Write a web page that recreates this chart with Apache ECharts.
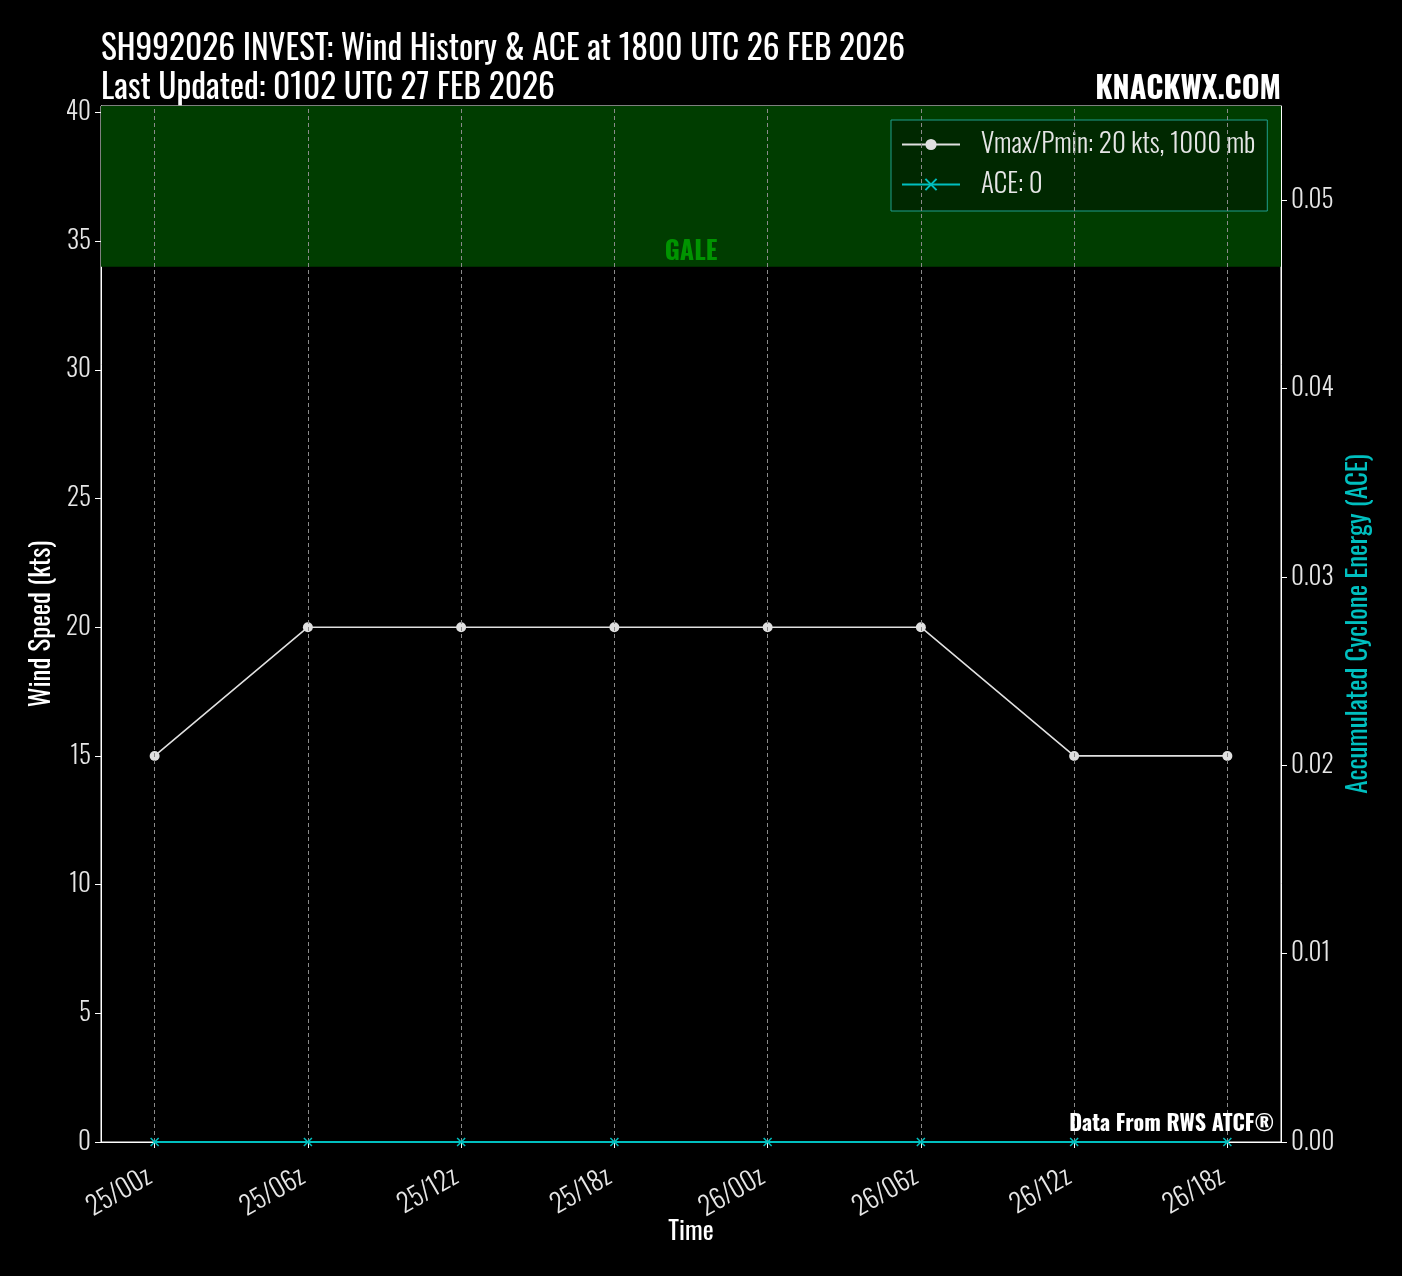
<!DOCTYPE html>
<html><head><meta charset="utf-8">
<script src="https://cdn.jsdelivr.net/npm/echarts@6/dist/echarts.min.js"></script>
<style>html,body{margin:0;padding:0;background:#000;}#c{width:1402px;height:1276px;}</style>
</head><body><div id="c"></div>
<script>
const times = ['25/00z','25/06z','25/12z','25/18z','26/00z','26/06z','26/12z','26/18z'];
const windKts = [15,20,20,20,20,20,15,15];
const aceVals = [0,0,0,0,0,0,0,0];
const galeKts = 34;
const windTicks = [0,5,10,15,20,25,30,35,40];
const aceTicks = [0,0.01,0.02,0.03,0.04,0.05];
const titleLine1 = 'SH992026 INVEST: Wind History & ACE at 1800 UTC 26 FEB 2026';
const titleLine2 = 'Last Updated: 0102 UTC 27 FEB 2026';
const windName = 'Vmax/Pmin: 20 kts, 1000 mb';
const aceName = 'ACE: 0';

const FONT = "Oswald, 'Liberation Sans Narrow', 'DejaVu Sans Condensed', 'Roboto Condensed', sans-serif";
const idx = times.map((t,i)=>i);
const chart = echarts.init(document.getElementById('c'), null, {renderer:'canvas'});
const option = {
  backgroundColor:'#000',
  animation:false,
  textStyle:{fontFamily:FONT},
  title:[
    {text:titleLine1+'\n'+titleLine2, left:96, top:25, textStyle:{color:'#fff', fontSize:33.4, fontWeight:'normal', fontFamily:FONT, lineHeight:39}},
    {text:'KNACKWX.COM', right:116, top:69, textStyle:{color:'#fff', fontSize:30.5, fontWeight:'bold', fontFamily:FONT}},
    {text:'Data From RWS ATCF®', right:123, top:1108, textStyle:{color:'#fff', fontSize:22, fontWeight:'bold', fontFamily:FONT}}
  ],
  grid:{left:101, right:121, top:106, bottom:134, show:true, borderColor:'#fff', borderWidth:1, backgroundColor:'#000'},
  legend:{
    orient:'vertical', left:891, top:120,
    backgroundColor:'rgba(0,36,0,0.85)', borderColor:'#1e9e8c', borderWidth:1,
    padding:[11,12,13,10], itemGap:13, itemWidth:58, itemHeight:14,
    textStyle:{color:'#e6e6e6', fontSize:27, fontWeight:300, fontFamily:FONT, padding:[0,0,0,16]},
    data:[{name:windName},{name:aceName}]
  },
  xAxis:{
    type:'value', min:-0.35, max:7.35,
    name:'Time', nameLocation:'middle', nameGap:77, nameMoveOverlap:false,
    nameTextStyle:{color:'#fff', fontSize:26, fontFamily:FONT},
    axisLine:{show:true, onZero:false, lineStyle:{color:'#fff', width:1}},
    axisTick:{show:true, customValues:idx, length:6, lineStyle:{color:'#fff'}},
    axisLabel:{show:true, customValues:idx, rotate:30, margin:30, padding:[0,6,0,0], color:'#e6e6e6', fontSize:26, fontWeight:300, fontFamily:FONT,
      formatter:v=>times[Math.round(v)]},
    splitLine:{show:false}
  },
  yAxis:[
    {type:'value', min:0, max:40.25, interval:5, position:'left',
     name:'Wind Speed (kts)', nameLocation:'middle', nameGap:45, nameRotate:90,
     nameTextStyle:{color:'#fff', fontSize:27, fontFamily:FONT},
     axisLine:{show:true, onZero:false, lineStyle:{color:'#fff'}},
     axisTick:{show:true, customValues:windTicks, length:6, lineStyle:{color:'#fff'}},
     axisLabel:{customValues:windTicks, color:'#e6e6e6', fontSize:25, fontWeight:300, fontFamily:FONT, margin:10},
     splitLine:{show:false}},
    {type:'value', min:0, max:0.055, interval:0.01, position:'right',
     name:'Accumulated Cyclone Energy (ACE)', nameLocation:'middle', nameGap:60, nameRotate:90,
     nameTextStyle:{color:'#00bfbf', fontSize:27, fontFamily:FONT},
     axisLine:{show:true, onZero:false, lineStyle:{color:'#fff'}},
     axisTick:{show:true, customValues:aceTicks, length:6, lineStyle:{color:'#fff'}},
     axisLabel:{customValues:aceTicks, color:'#e6e6e6', fontSize:25, fontWeight:300, fontFamily:FONT, margin:10,
       formatter:v=>v.toFixed(2)},
     splitLine:{show:false}}
  ],
  series:[
    {name:windName, type:'line', yAxisIndex:0, z:4,
     data:idx.map(i=>[i, windKts[i]]),
     symbol:'circle', symbolSize:10, showAllSymbol:true,
     lineStyle:{color:'#e0e0e0', width:1.6}, itemStyle:{color:'#e0e0e0'},
     markArea:{silent:true, itemStyle:{color:'#003d00'},
       label:{show:true, position:'insideBottom', color:'#009400', fontSize:26, fontWeight:'bold', fontFamily:FONT, distance:2},
       data:[[{yAxis:galeKts, name:'GALE'},{yAxis:40.25}]]},
     markLine:{silent:true, symbol:'none', label:{show:false},
       lineStyle:{color:'#8a8a8a', type:[4,3], width:1},
       data:idx.map(i=>({xAxis:i}))}
    },
    {name:aceName, type:'line', yAxisIndex:1, z:5,
     data:idx.map(i=>[i, aceVals[i]]),
     symbol:'path://M0,0L10,10M10,0L0,10', symbolSize:8, showAllSymbol:true,
     lineStyle:{color:'#00bfbf', width:1.8},
     itemStyle:{color:'rgba(0,0,0,0)', borderColor:'#00bfbf', borderWidth:1.5}}
  ]
};
chart.setOption(option);
</script></body></html>
